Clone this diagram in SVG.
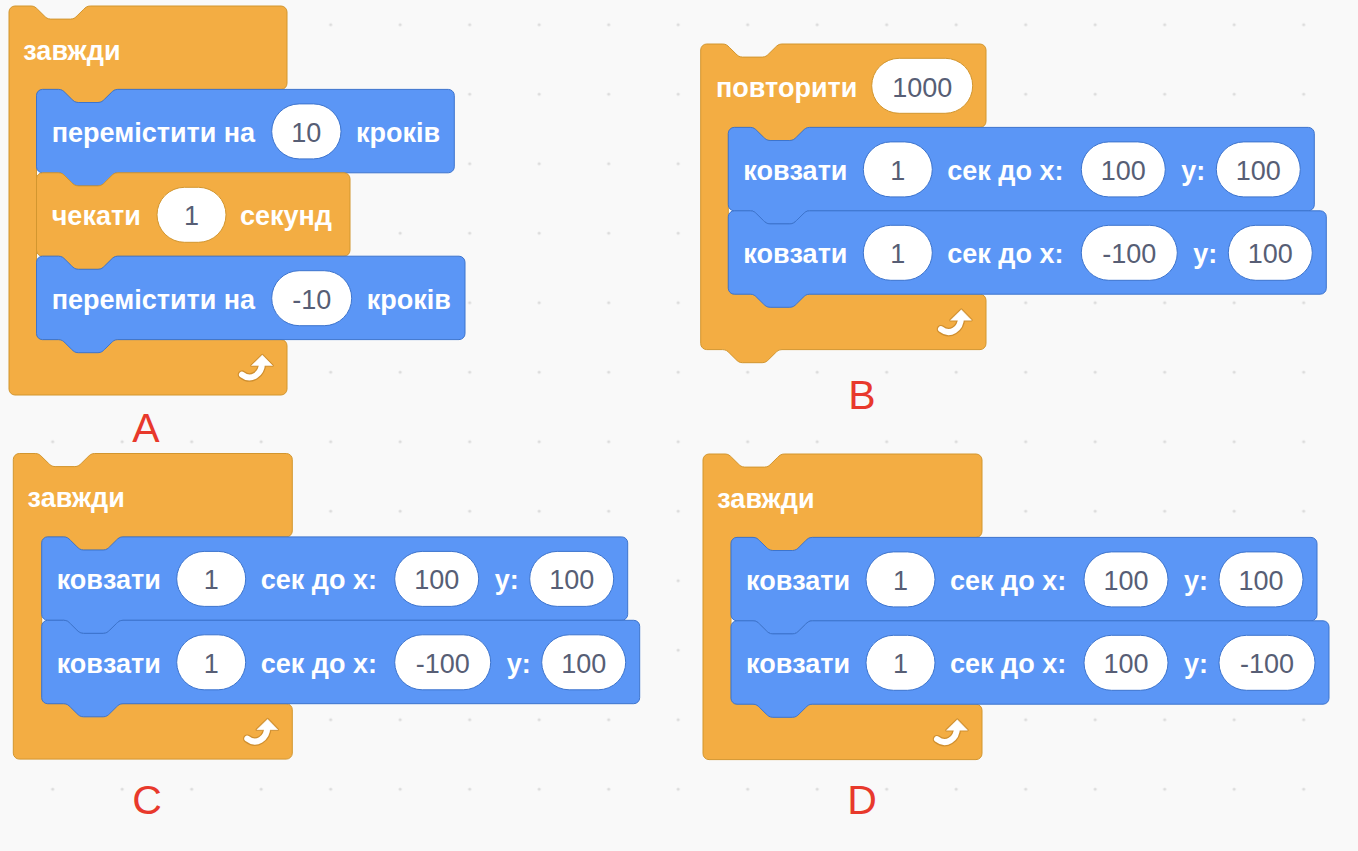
<svg xmlns="http://www.w3.org/2000/svg" width="1358" height="851" viewBox="0 0 1358 851">
<style>
.o{fill:#F3AD43;stroke:#D2962F;stroke-width:1}
.b{fill:#5B96F6;stroke:#3D74CD;stroke-width:1}
.lbl{font-family:"Liberation Sans",Arial,sans-serif;font-weight:bold;font-size:27px;fill:#fff}
.inb{fill:#fff;stroke:#3D74CD;stroke-width:1}
.ino{fill:#fff;stroke:#D2962F;stroke-width:1}
.num{font-family:"Liberation Sans",Arial,sans-serif;font-size:27px;fill:#575E75;text-anchor:middle}
.tag{font-family:"Liberation Sans",Arial,sans-serif;font-size:41px;fill:#E8392C;text-anchor:middle}
.aro{fill:none;stroke:#D08F2E;stroke-width:8.5;stroke-linecap:round}
.arw{fill:none;stroke:#fff;stroke-width:6;stroke-linecap:round}
</style>
<defs>
<pattern id="dots" patternUnits="userSpaceOnUse" x="17.95" y="-10.05" width="69.5" height="69.5">
<circle cx="34.75" cy="34.75" r="1.6" fill="#DCDCDC"/>
</pattern>
<g id="arrow">
<path class="aro" d="M23,8 C23,20 12,27 3,20"/>
<path d="M12.5,11 L23.3,0.5 L33.5,11 Z" fill="#D08F2E" stroke="#D08F2E" stroke-width="2.5" stroke-linejoin="round"/>
<path class="arw" d="M23,8 C23,20 12,27 3,20"/>
<path d="M12.5,11 L23.3,0.5 L33.5,11 Z" fill="#fff" stroke="#fff" stroke-width="0.5" stroke-linejoin="round"/>
</g>
</defs>
<rect width="1358" height="851" fill="#F9F9F9"/>
<rect width="1358" height="851" fill="url(#dots)"/>
<g id="connectors"/>

<!-- Script A -->
<g id="scriptA">
<g id="A-forever" transform="translate(9,6)">
<path class="o" d="M0,6a6,6 0 0 1 6,-6H22c3.3,0 4.9,1.6 6.6,3.3l6.6,6.5c1.6,1.6 3.3,3.3 6.6,3.3h19.7c3.3,0 4.9,-1.6 6.6,-3.3l6.6,-6.5c1.6,-1.6 3.3,-3.3 6.6,-3.3H272a6,6 0 0 1 6,6V77.4a6,6 0 0 1 -6,6H108.8c-3.3,0 -4.9,1.6 -6.6,3.3l-6.6,6.5c-1.6,1.6 -3.3,3.3 -6.6,3.3h-19.7c-3.3,0 -4.9,-1.6 -6.6,-3.3l-6.6,-6.5c-1.6,-1.6 -3.3,-3.3 -6.6,-3.3H33.5a6,6 0 0 0 -6,6V327.6a6,6 0 0 0 6,6H272a6,6 0 0 1 6,6V383a6,6 0 0 1 -6,6H6a6,6 0 0 1 -6,-6Z"/>
<text class="lbl" x="14.3" y="53.5">завжди</text>
<use href="#arrow" x="230" y="348.6"/>
</g>
<g id="A-move10" transform="translate(36.5,89.4)">
<path class="b" d="M0,6a6,6 0 0 1 6,-6H22c3.3,0 4.9,1.6 6.6,3.3l6.6,6.5c1.6,1.6 3.3,3.3 6.6,3.3h19.7c3.3,0 4.9,-1.6 6.6,-3.3l6.6,-6.5c1.6,-1.6 3.3,-3.3 6.6,-3.3H411.8a6,6 0 0 1 6,6V77.4a6,6 0 0 1 -6,6H81.3c-3.3,0 -4.9,1.6 -6.6,3.3l-6.6,6.5c-1.6,1.6 -3.3,3.3 -6.6,3.3h-19.7c-3.3,0 -4.9,-1.6 -6.6,-3.3l-6.6,-6.5c-1.6,-1.6 -3.3,-3.3 -6.6,-3.3H6a6,6 0 0 1 -6,-6Z"/>
<text class="lbl" x="15.2" y="52.5">перемістити на</text>
<rect class="inb" x="235.2" y="14.5" width="69.3" height="55" rx="27.5"/>
<text class="num" x="269.8" y="52.5">10</text>
<text class="lbl" x="319.5" y="52.5">кроків</text>
</g>
<g id="A-wait" transform="translate(36.5,172.8)">
<path class="o" d="M0,6a6,6 0 0 1 6,-6H22c3.3,0 4.9,1.6 6.6,3.3l6.6,6.5c1.6,1.6 3.3,3.3 6.6,3.3h19.7c3.3,0 4.9,-1.6 6.6,-3.3l6.6,-6.5c1.6,-1.6 3.3,-3.3 6.6,-3.3H307.5a6,6 0 0 1 6,6V77.4a6,6 0 0 1 -6,6H81.3c-3.3,0 -4.9,1.6 -6.6,3.3l-6.6,6.5c-1.6,1.6 -3.3,3.3 -6.6,3.3h-19.7c-3.3,0 -4.9,-1.6 -6.6,-3.3l-6.6,-6.5c-1.6,-1.6 -3.3,-3.3 -6.6,-3.3H6a6,6 0 0 1 -6,-6Z"/>
<text class="lbl" x="15.2" y="52.5">чекати</text>
<rect class="ino" x="120.5" y="14.5" width="69" height="55" rx="27.5"/>
<text class="num" x="155" y="52.5">1</text>
<text class="lbl" x="203.5" y="52.5">секунд</text>
</g>
<g id="A-move-10" transform="translate(36.5,256.2)">
<path class="b" d="M0,6a6,6 0 0 1 6,-6H22c3.3,0 4.9,1.6 6.6,3.3l6.6,6.5c1.6,1.6 3.3,3.3 6.6,3.3h19.7c3.3,0 4.9,-1.6 6.6,-3.3l6.6,-6.5c1.6,-1.6 3.3,-3.3 6.6,-3.3H422.5a6,6 0 0 1 6,6V77.4a6,6 0 0 1 -6,6H81.3c-3.3,0 -4.9,1.6 -6.6,3.3l-6.6,6.5c-1.6,1.6 -3.3,3.3 -6.6,3.3h-19.7c-3.3,0 -4.9,-1.6 -6.6,-3.3l-6.6,-6.5c-1.6,-1.6 -3.3,-3.3 -6.6,-3.3H6a6,6 0 0 1 -6,-6Z"/>
<text class="lbl" x="15.2" y="52.5">перемістити на</text>
<rect class="inb" x="235.2" y="14.5" width="80" height="55" rx="27.5"/>
<text class="num" x="275.2" y="52.5">-10</text>
<text class="lbl" x="330.2" y="52.5">кроків</text>
</g>
<text id="labelA" class="tag" x="146" y="442">A</text>
</g>

<!-- Script B -->
<g id="scriptB">
<g id="B-repeat" transform="translate(700.7,44)">
<path class="o" d="M0,6a6,6 0 0 1 6,-6H22c3.3,0 4.9,1.6 6.6,3.3l6.6,6.5c1.6,1.6 3.3,3.3 6.6,3.3h19.7c3.3,0 4.9,-1.6 6.6,-3.3l6.6,-6.5c1.6,-1.6 3.3,-3.3 6.6,-3.3H279.3a6,6 0 0 1 6,6V77.4a6,6 0 0 1 -6,6H108.9c-3.3,0 -4.9,1.6 -6.6,3.3l-6.6,6.5c-1.6,1.6 -3.3,3.3 -6.6,3.3h-19.7c-3.3,0 -4.9,-1.6 -6.6,-3.3l-6.6,-6.5c-1.6,-1.6 -3.3,-3.3 -6.6,-3.3H33.6a6,6 0 0 0 -6,6V244.2a6,6 0 0 0 6,6H279.3a6,6 0 0 1 6,6V299.6a6,6 0 0 1 -6,6H81.3c-3.3,0 -4.9,1.6 -6.6,3.3l-6.6,6.5c-1.6,1.6 -3.3,3.3 -6.6,3.3h-19.7c-3.3,0 -4.9,-1.6 -6.6,-3.3l-6.6,-6.5c-1.6,-1.6 -3.3,-3.3 -6.6,-3.3H6a6,6 0 0 1 -6,-6Z"/>
<text class="lbl" x="15.3" y="52.7">повторити</text>
<rect class="ino" x="171" y="14.3" width="101" height="55" rx="27.5"/>
<text class="num" x="221.5" y="52.7">1000</text>
<use href="#arrow" x="237.3" y="265.2"/>
</g>
<g id="B-glide1" transform="translate(728.3,127.4)">
<path class="b" d="M0,6a6,6 0 0 1 6,-6H22c3.3,0 4.9,1.6 6.6,3.3l6.6,6.5c1.6,1.6 3.3,3.3 6.6,3.3h19.7c3.3,0 4.9,-1.6 6.6,-3.3l6.6,-6.5c1.6,-1.6 3.3,-3.3 6.6,-3.3H580a6,6 0 0 1 6,6V77.4a6,6 0 0 1 -6,6H81.3c-3.3,0 -4.9,1.6 -6.6,3.3l-6.6,6.5c-1.6,1.6 -3.3,3.3 -6.6,3.3h-19.7c-3.3,0 -4.9,-1.6 -6.6,-3.3l-6.6,-6.5c-1.6,-1.6 -3.3,-3.3 -6.6,-3.3H6a6,6 0 0 1 -6,-6Z"/>
<text class="lbl" x="15" y="52.5">ковзати</text>
<rect class="inb" x="135" y="14.5" width="69" height="55" rx="27.5"/>
<text class="num" x="169.5" y="52.5">1</text>
<text class="lbl" x="219" y="52.5">сек до x:</text>
<rect class="inb" x="353" y="14.5" width="84" height="55" rx="27.5"/>
<text class="num" x="395" y="52.5">100</text>
<text class="lbl" x="453" y="52.5">y:</text>
<rect class="inb" x="488" y="14.5" width="84" height="55" rx="27.5"/>
<text class="num" x="530" y="52.5">100</text>
</g>
<g id="B-glide2" transform="translate(728.3,210.8)">
<path class="b" d="M0,6a6,6 0 0 1 6,-6H22c3.3,0 4.9,1.6 6.6,3.3l6.6,6.5c1.6,1.6 3.3,3.3 6.6,3.3h19.7c3.3,0 4.9,-1.6 6.6,-3.3l6.6,-6.5c1.6,-1.6 3.3,-3.3 6.6,-3.3H592a6,6 0 0 1 6,6V77.4a6,6 0 0 1 -6,6H81.3c-3.3,0 -4.9,1.6 -6.6,3.3l-6.6,6.5c-1.6,1.6 -3.3,3.3 -6.6,3.3h-19.7c-3.3,0 -4.9,-1.6 -6.6,-3.3l-6.6,-6.5c-1.6,-1.6 -3.3,-3.3 -6.6,-3.3H6a6,6 0 0 1 -6,-6Z"/>
<text class="lbl" x="15" y="52.5">ковзати</text>
<rect class="inb" x="135" y="14.5" width="69" height="55" rx="27.5"/>
<text class="num" x="169.5" y="52.5">1</text>
<text class="lbl" x="219" y="52.5">сек до x:</text>
<rect class="inb" x="353" y="14.5" width="96" height="55" rx="27.5"/>
<text class="num" x="401" y="52.5">-100</text>
<text class="lbl" x="465" y="52.5">y:</text>
<rect class="inb" x="500" y="14.5" width="84" height="55" rx="27.5"/>
<text class="num" x="542" y="52.5">100</text>
</g>
<text id="labelB" class="tag" x="862" y="409">B</text>
</g>

<!-- Script C -->
<g id="scriptC">
<g id="C-forever" transform="translate(13.3,453.5)">
<path class="o" d="M0,6a6,6 0 0 1 6,-6H22c3.3,0 4.9,1.6 6.6,3.3l6.6,6.5c1.6,1.6 3.3,3.3 6.6,3.3h19.7c3.3,0 4.9,-1.6 6.6,-3.3l6.6,-6.5c1.6,-1.6 3.3,-3.3 6.6,-3.3H273a6,6 0 0 1 6,6V77.4a6,6 0 0 1 -6,6H109.7c-3.3,0 -4.9,1.6 -6.6,3.3l-6.6,6.5c-1.6,1.6 -3.3,3.3 -6.6,3.3h-19.7c-3.3,0 -4.9,-1.6 -6.6,-3.3l-6.6,-6.5c-1.6,-1.6 -3.3,-3.3 -6.6,-3.3H34.4a6,6 0 0 0 -6,6V244.2a6,6 0 0 0 6,6H273a6,6 0 0 1 6,6V299.6a6,6 0 0 1 -6,6H6a6,6 0 0 1 -6,-6Z"/>
<text class="lbl" x="14.3" y="53.5">завжди</text>
<use href="#arrow" x="231" y="265.2"/>
</g>
<g id="C-glide1" transform="translate(41.7,536.9)">
<path class="b" d="M0,6a6,6 0 0 1 6,-6H22c3.3,0 4.9,1.6 6.6,3.3l6.6,6.5c1.6,1.6 3.3,3.3 6.6,3.3h19.7c3.3,0 4.9,-1.6 6.6,-3.3l6.6,-6.5c1.6,-1.6 3.3,-3.3 6.6,-3.3H580a6,6 0 0 1 6,6V77.4a6,6 0 0 1 -6,6H81.3c-3.3,0 -4.9,1.6 -6.6,3.3l-6.6,6.5c-1.6,1.6 -3.3,3.3 -6.6,3.3h-19.7c-3.3,0 -4.9,-1.6 -6.6,-3.3l-6.6,-6.5c-1.6,-1.6 -3.3,-3.3 -6.6,-3.3H6a6,6 0 0 1 -6,-6Z"/>
<text class="lbl" x="15" y="52.5">ковзати</text>
<rect class="inb" x="135" y="14.5" width="69" height="55" rx="27.5"/>
<text class="num" x="169.5" y="52.5">1</text>
<text class="lbl" x="219" y="52.5">сек до x:</text>
<rect class="inb" x="353" y="14.5" width="84" height="55" rx="27.5"/>
<text class="num" x="395" y="52.5">100</text>
<text class="lbl" x="453" y="52.5">y:</text>
<rect class="inb" x="488" y="14.5" width="84" height="55" rx="27.5"/>
<text class="num" x="530" y="52.5">100</text>
</g>
<g id="C-glide2" transform="translate(41.7,620.3)">
<path class="b" d="M0,6a6,6 0 0 1 6,-6H22c3.3,0 4.9,1.6 6.6,3.3l6.6,6.5c1.6,1.6 3.3,3.3 6.6,3.3h19.7c3.3,0 4.9,-1.6 6.6,-3.3l6.6,-6.5c1.6,-1.6 3.3,-3.3 6.6,-3.3H592a6,6 0 0 1 6,6V77.4a6,6 0 0 1 -6,6H81.3c-3.3,0 -4.9,1.6 -6.6,3.3l-6.6,6.5c-1.6,1.6 -3.3,3.3 -6.6,3.3h-19.7c-3.3,0 -4.9,-1.6 -6.6,-3.3l-6.6,-6.5c-1.6,-1.6 -3.3,-3.3 -6.6,-3.3H6a6,6 0 0 1 -6,-6Z"/>
<text class="lbl" x="15" y="52.5">ковзати</text>
<rect class="inb" x="135" y="14.5" width="69" height="55" rx="27.5"/>
<text class="num" x="169.5" y="52.5">1</text>
<text class="lbl" x="219" y="52.5">сек до x:</text>
<rect class="inb" x="353" y="14.5" width="96" height="55" rx="27.5"/>
<text class="num" x="401" y="52.5">-100</text>
<text class="lbl" x="465" y="52.5">y:</text>
<rect class="inb" x="500" y="14.5" width="84" height="55" rx="27.5"/>
<text class="num" x="542" y="52.5">100</text>
</g>
<text id="labelC" class="tag" x="147" y="814">C</text>
</g>

<!-- Script D -->
<g id="scriptD">
<g id="D-forever" transform="translate(703,454)">
<path class="o" d="M0,6a6,6 0 0 1 6,-6H22c3.3,0 4.9,1.6 6.6,3.3l6.6,6.5c1.6,1.6 3.3,3.3 6.6,3.3h19.7c3.3,0 4.9,-1.6 6.6,-3.3l6.6,-6.5c1.6,-1.6 3.3,-3.3 6.6,-3.3H273a6,6 0 0 1 6,6V77.4a6,6 0 0 1 -6,6H109.3c-3.3,0 -4.9,1.6 -6.6,3.3l-6.6,6.5c-1.6,1.6 -3.3,3.3 -6.6,3.3h-19.7c-3.3,0 -4.9,-1.6 -6.6,-3.3l-6.6,-6.5c-1.6,-1.6 -3.3,-3.3 -6.6,-3.3H34a6,6 0 0 0 -6,6V244.2a6,6 0 0 0 6,6H273a6,6 0 0 1 6,6V299.6a6,6 0 0 1 -6,6H6a6,6 0 0 1 -6,-6Z"/>
<text class="lbl" x="14.3" y="53.5">завжди</text>
<use href="#arrow" x="231" y="265.2"/>
</g>
<g id="D-glide1" transform="translate(731,537.4)">
<path class="b" d="M0,6a6,6 0 0 1 6,-6H22c3.3,0 4.9,1.6 6.6,3.3l6.6,6.5c1.6,1.6 3.3,3.3 6.6,3.3h19.7c3.3,0 4.9,-1.6 6.6,-3.3l6.6,-6.5c1.6,-1.6 3.3,-3.3 6.6,-3.3H580a6,6 0 0 1 6,6V77.4a6,6 0 0 1 -6,6H81.3c-3.3,0 -4.9,1.6 -6.6,3.3l-6.6,6.5c-1.6,1.6 -3.3,3.3 -6.6,3.3h-19.7c-3.3,0 -4.9,-1.6 -6.6,-3.3l-6.6,-6.5c-1.6,-1.6 -3.3,-3.3 -6.6,-3.3H6a6,6 0 0 1 -6,-6Z"/>
<text class="lbl" x="15" y="52.5">ковзати</text>
<rect class="inb" x="135" y="14.5" width="69" height="55" rx="27.5"/>
<text class="num" x="169.5" y="52.5">1</text>
<text class="lbl" x="219" y="52.5">сек до x:</text>
<rect class="inb" x="353" y="14.5" width="84" height="55" rx="27.5"/>
<text class="num" x="395" y="52.5">100</text>
<text class="lbl" x="453" y="52.5">y:</text>
<rect class="inb" x="488" y="14.5" width="84" height="55" rx="27.5"/>
<text class="num" x="530" y="52.5">100</text>
</g>
<g id="D-glide2" transform="translate(731,620.8)">
<path class="b" d="M0,6a6,6 0 0 1 6,-6H22c3.3,0 4.9,1.6 6.6,3.3l6.6,6.5c1.6,1.6 3.3,3.3 6.6,3.3h19.7c3.3,0 4.9,-1.6 6.6,-3.3l6.6,-6.5c1.6,-1.6 3.3,-3.3 6.6,-3.3H592a6,6 0 0 1 6,6V77.4a6,6 0 0 1 -6,6H81.3c-3.3,0 -4.9,1.6 -6.6,3.3l-6.6,6.5c-1.6,1.6 -3.3,3.3 -6.6,3.3h-19.7c-3.3,0 -4.9,-1.6 -6.6,-3.3l-6.6,-6.5c-1.6,-1.6 -3.3,-3.3 -6.6,-3.3H6a6,6 0 0 1 -6,-6Z"/>
<text class="lbl" x="15" y="52.5">ковзати</text>
<rect class="inb" x="135" y="14.5" width="69" height="55" rx="27.5"/>
<text class="num" x="169.5" y="52.5">1</text>
<text class="lbl" x="219" y="52.5">сек до x:</text>
<rect class="inb" x="353" y="14.5" width="84" height="55" rx="27.5"/>
<text class="num" x="395" y="52.5">100</text>
<text class="lbl" x="453" y="52.5">y:</text>
<rect class="inb" x="488" y="14.5" width="96" height="55" rx="27.5"/>
<text class="num" x="536" y="52.5">-100</text>
</g>
<text id="labelD" class="tag" x="862" y="814">D</text>
</g>
</svg>
